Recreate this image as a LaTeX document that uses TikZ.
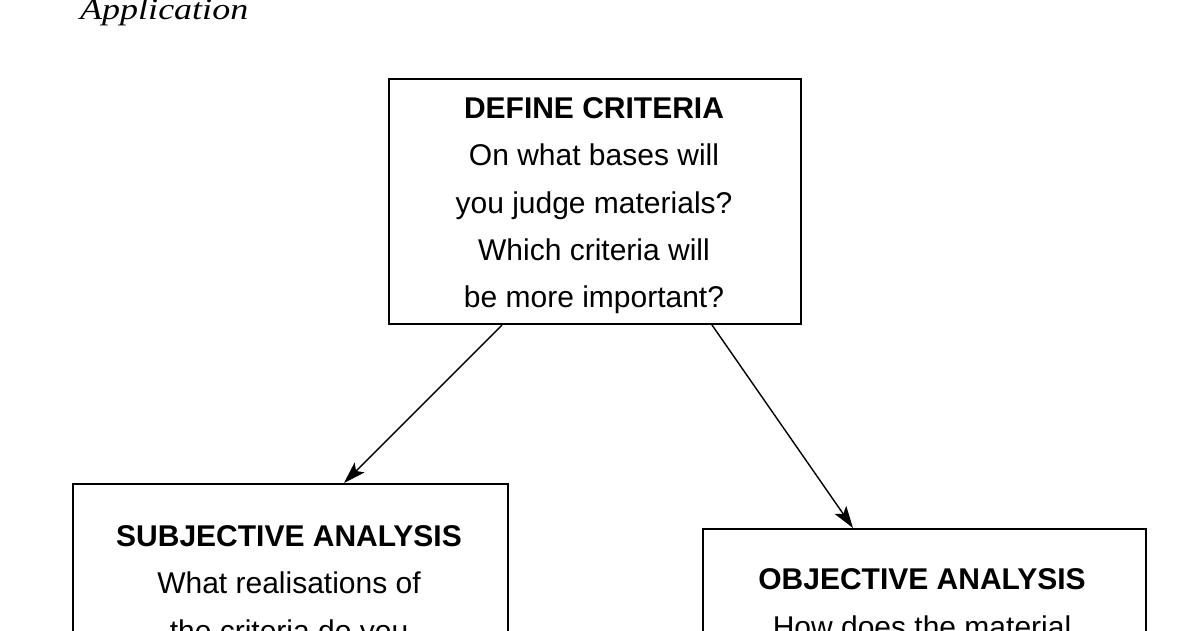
\documentclass[tikz,border=0pt]{standalone}
\usepackage{fontspec}
\setmainfont{Liberation Sans}
\newfontfamily\capfont{Liberation Serif}
\usetikzlibrary{arrows.meta}
\begin{document}
\begin{tikzpicture}[x=1pt,y=-1pt,
  boxline/.style={draw=black,line width=1.8pt},
  txt/.style={font=\fontsize{30}{36}\selectfont,anchor=base,inner sep=0pt},
  hdr/.style={font=\fontsize{30}{36}\selectfont\bfseries,anchor=base,inner sep=0pt},
  conn/.style={line width=1.4pt,-{Stealth[length=22pt,width=14pt,inset=5pt]}}]
\useasboundingbox (0,0) rectangle (1200,630);
\clip (0,0) rectangle (1200,630);
\node[font=\capfont\itshape\fontsize{30}{36}\selectfont,anchor=base west,inner sep=0pt,xscale=1.2] (ttl) at (80,19) {Application};
% boxes
\node[boxline,minimum width=412pt,minimum height=245pt,anchor=north west,inner sep=0pt] (def) at (388,78) {};
\node[boxline,minimum width=435pt,minimum height=200pt,anchor=north west,inner sep=0pt] (subj) at (72,483) {};
\node[boxline,minimum width=443pt,minimum height=150pt,anchor=north west,inner sep=0pt] (obj) at (702,528) {};
% texts
\node[hdr] (d1) at (594,118) {DEFINE CRITERIA};
\node[txt] (d2) at (594,165) {On what bases will};
\node[txt] (d3) at (594,213) {you judge materials?};
\node[txt] (d4) at (594,260) {Which criteria will};
\node[txt] (d5) at (594,307) {be more important?};
\node[hdr] (s1) at (289,546) {SUBJECTIVE ANALYSIS};
\node[txt] (s2) at (289,593) {What realisations of};
\node[txt] (s3) at (289,641) {the criteria do you};
\node[hdr] (o1) at (922,589) {OBJECTIVE ANALYSIS};
\node[txt] (o2) at (922,637) {How does the material};
% connectors
\coordinate (a1) at (502,325);
\coordinate (a2) at (712,325);
\coordinate (t1) at (344,483);
\coordinate (t2) at (853,528);
\draw[conn] (a1) -- (t1);
\draw[conn] (a2) -- (t2);
\end{tikzpicture}
\end{document}
